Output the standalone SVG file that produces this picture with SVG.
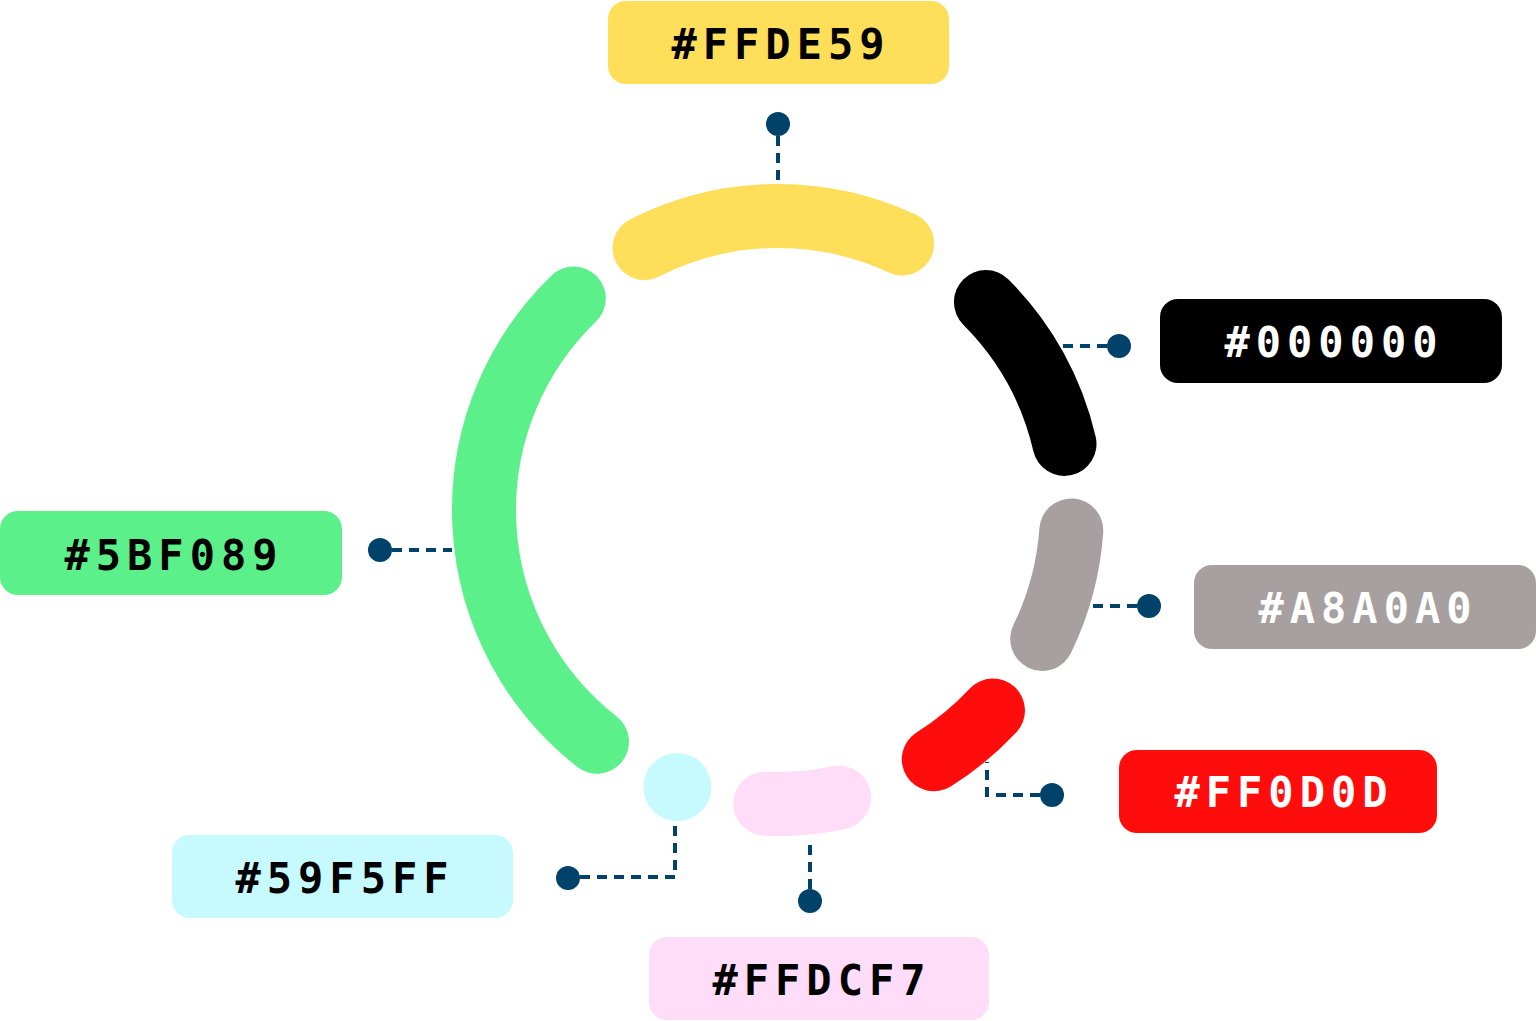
<svg xmlns="http://www.w3.org/2000/svg" width="1536" height="1021" viewBox="0 0 1536 1021">
<style>
.arc{fill:none;stroke-width:64;stroke-linecap:round}
.lbl{font-family:"DejaVu Sans Mono","Liberation Mono",monospace;font-weight:bold;font-size:42px;letter-spacing:6px;text-anchor:middle}
.dk{fill:#000000}
.wt{fill:#ffffff}
.con{fill:none;stroke:#01426A;stroke-width:4;stroke-dasharray:10 7}
.dot{fill:#01426A}
</style>
<rect width="1536" height="1021" fill="#ffffff"/>
<g id="ring">
<path id="arc-yellow" class="arc" stroke="#FFDE59" d="M644.5 248 A294 294 0 0 1 902.2 243.5"/>
<path id="arc-black" class="arc" stroke="#000000" d="M985.9 302.1 A294 294 0 0 1 1064.5 443.9"/>
<path id="arc-gray" class="arc" stroke="#A8A0A0" d="M1071.3 530.5 A294 294 0 0 1 1042.2 638.9"/>
<path id="arc-red" class="arc" stroke="#FF0D0D" d="M993 710.5 A294 294 0 0 1 933.8 759.3"/>
<path id="arc-pink" class="arc" stroke="#FFDCF7" d="M839.1 797.6 A294 294 0 0 1 765.2 803.7"/>
<circle id="arc-cyan" cx="677.4" cy="787" r="34" fill="#C6FAFF"/>
<path id="arc-green" class="arc" stroke="#5BF089" d="M597 741.7 A294 294 0 0 1 573.8 298.5"/>
</g>
<g id="connectors">
<path class="con" d="M778 136 V185"/>
<path class="con" d="M1107 346 H1060"/>
<path class="con" d="M1137 606 H1088"/>
<path class="con" d="M1040 795 H987 V762"/>
<path class="con" d="M810 889 V840"/>
<path class="con" d="M580 877 H675 V820"/>
<path class="con" d="M392 550 H452"/>
<circle class="dot" cx="778" cy="124" r="12"/>
<circle class="dot" cx="1119" cy="346" r="12"/>
<circle class="dot" cx="1149" cy="606" r="12"/>
<circle class="dot" cx="1052" cy="795" r="12"/>
<circle class="dot" cx="810" cy="901" r="12"/>
<circle class="dot" cx="568" cy="878" r="12"/>
<circle class="dot" cx="380" cy="550" r="12"/>
</g>
<g id="label-yellow">
<rect x="608" y="1" width="341" height="83" rx="18" fill="#FFDE59"/>
<text class="lbl dk" x="781" y="59">#FFDE59</text>
</g>
<g id="label-black">
<rect x="1160" y="299" width="342" height="84" rx="18" fill="#000000"/>
<text class="lbl wt" x="1334" y="357">#000000</text>
</g>
<g id="label-gray">
<rect x="1194" y="565" width="342" height="84" rx="18" fill="#A8A0A0"/>
<text class="lbl wt" x="1368" y="623">#A8A0A0</text>
</g>
<g id="label-red">
<rect x="1119" y="750" width="318" height="83" rx="18" fill="#FF0D0D"/>
<text class="lbl wt" x="1284" y="807">#FF0D0D</text>
</g>
<g id="label-pink">
<rect x="649" y="937" width="340" height="83" rx="18" fill="#FFDCF7"/>
<text class="lbl dk" x="822" y="995">#FFDCF7</text>
</g>
<g id="label-cyan">
<rect x="172" y="835" width="341" height="83" rx="18" fill="#C6FAFF"/>
<text class="lbl dk" x="345" y="893">#59F5FF</text>
</g>
<g id="label-green">
<rect x="0" y="511" width="342" height="84" rx="18" fill="#5BF089"/>
<text class="lbl dk" x="174" y="570">#5BF089</text>
</g>
</svg>
